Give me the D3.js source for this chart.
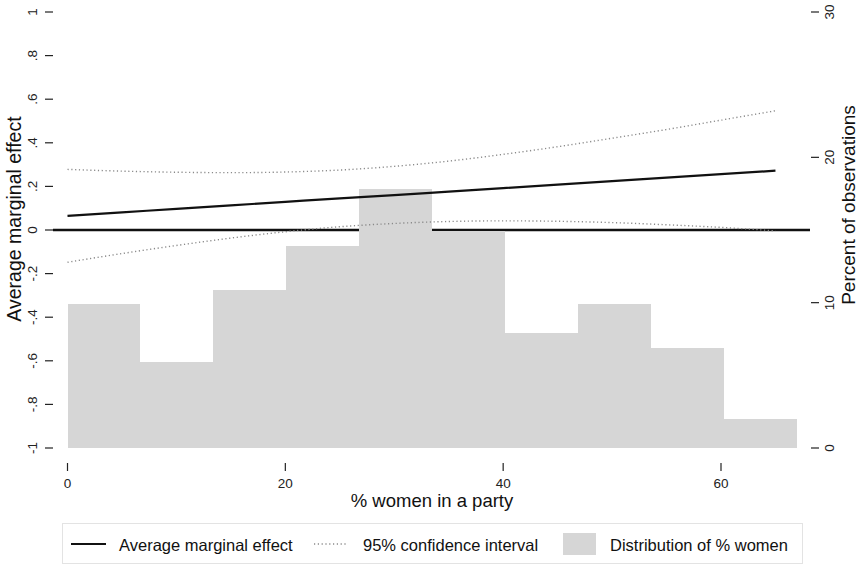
<!DOCTYPE html>
<html>
<head>
<meta charset="utf-8">
<script src="https://cdn.jsdelivr.net/npm/d3@7"></script>
<style>
  html, body { margin: 0; padding: 0; background: #fff; }
  svg { display: block; font-family: "Liberation Sans", Arial, Helvetica, sans-serif; }
</style>
</head>
<body>
<svg id="chart" width="857" height="565"></svg>
<script>
// ---- Data ----
// Histogram bins (% women in a party), lower edges, bin width 6.7
const binStarts = [0, 6.7, 13.4, 20.1, 26.8, 33.5, 40.2, 46.9, 53.6, 60.3];
const binWidth = 6.7;
const binPercent = [9.9, 5.9, 10.9, 13.9, 17.8, 14.9, 7.9, 9.9, 6.9, 2.0];

// Marginal effect line and CI
const xPoints = [0, 5, 10, 15, 20, 25, 30, 35, 40, 45, 50, 55, 60, 65];
const ame     = [0.065, 0.081, 0.097, 0.113, 0.129, 0.145, 0.160, 0.176, 0.192, 0.208, 0.224, 0.240, 0.256, 0.272];
const ciUpper = [0.278, 0.270, 0.265, 0.263, 0.266, 0.275, 0.292, 0.316, 0.347, 0.382, 0.421, 0.461, 0.504, 0.547];
const ciLower = [-0.148, -0.108, -0.071, -0.037, -0.008, 0.015, 0.030, 0.039, 0.042, 0.040, 0.034, 0.024, 0.012, -0.004];

const xTicks = [0, 20, 40, 60];
const yLeftTicks = [-1, -0.8, -0.6, -0.4, -0.2, 0, 0.2, 0.4, 0.6, 0.8, 1];
const yLeftLabels = ["-1", "-.8", "-.6", "-.4", "-.2", "0", ".2", ".4", ".6", ".8", "1"];
const yRightTicks = [0, 10, 20, 30];

const legendItems = ["Average marginal effect", "95% confidence interval", "Distribution of % women"];

// ---- Scales ----
const svg = d3.select("#chart");
const x = d3.scaleLinear().domain([0, 60]).range([67.5, 721]);
const yL = d3.scaleLinear().domain([-1, 1]).range([448, 12]);
const yR = d3.scaleLinear().domain([0, 30]).range([448, 12]);

const barColor = "#d6d6d6";

// zero reference line (beneath bars)
svg.append("line")
  .attr("x1", 53).attr("x2", 810)
  .attr("y1", yL(0)).attr("y2", yL(0))
  .attr("stroke", "#111").attr("stroke-width", 2.4);

// histogram bars
svg.append("g").selectAll("rect")
  .data(binStarts)
  .join("rect")
  .attr("x", d => x(d))
  .attr("width", d => x(d + binWidth) - x(d))
  .attr("y", (d, i) => yR(binPercent[i]))
  .attr("height", (d, i) => yR(0) - yR(binPercent[i]))
  .attr("fill", barColor)
  .attr("shape-rendering", "crispEdges");

// CI lines
const line = d3.line().x((d, i) => x(xPoints[i])).y(d => yL(d)).curve(d3.curveMonotoneX);
[ciUpper, ciLower].forEach(arr => {
  svg.append("path")
    .attr("d", line(arr))
    .attr("fill", "none")
    .attr("stroke", "#8a8a8a")
    .attr("stroke-width", 1.4)
    .attr("stroke-dasharray", "1.2,2.6");
});

// AME line
svg.append("path")
  .attr("d", line(ame))
  .attr("fill", "none")
  .attr("stroke", "#111")
  .attr("stroke-width", 2.2);

// ---- Left axis ----
const gL = svg.append("g");
gL.selectAll("line").data(yLeftTicks).join("line")
  .attr("x1", 45).attr("x2", 53)
  .attr("y1", d => yL(d)).attr("y2", d => yL(d))
  .attr("stroke", "#222").attr("stroke-width", 1.2);
gL.selectAll("text").data(yLeftTicks).join("text")
  .attr("transform", d => `translate(32,${yL(d)}) rotate(-90)`)
  .attr("text-anchor", "middle")
  .attr("dominant-baseline", "central")
  .attr("font-size", 13.5)
  .attr("fill", "#222")
  .text((d, i) => yLeftLabels[i]);
svg.append("text")
  .attr("transform", `translate(14,219) rotate(-90)`)
  .attr("text-anchor", "middle")
  .attr("dominant-baseline", "central")
  .attr("font-size", 19.5)
  .attr("fill", "#111")
  .text("Average marginal effect");

// ---- Right axis ----
const gR = svg.append("g");
gR.selectAll("line").data(yRightTicks).join("line")
  .attr("x1", 811).attr("x2", 819)
  .attr("y1", d => yR(d)).attr("y2", d => yR(d))
  .attr("stroke", "#222").attr("stroke-width", 1.2);
gR.selectAll("text").data(yRightTicks).join("text")
  .attr("transform", d => `translate(829,${yR(d)}) rotate(-90)`)
  .attr("text-anchor", "middle")
  .attr("dominant-baseline", "central")
  .attr("font-size", 13.5)
  .attr("fill", "#222")
  .text(d => d);
svg.append("text")
  .attr("transform", `translate(848,205) rotate(-90)`)
  .attr("text-anchor", "middle")
  .attr("dominant-baseline", "central")
  .attr("font-size", 19)
  .attr("fill", "#111")
  .text("Percent of observations");

// ---- Bottom axis ----
const gB = svg.append("g");
gB.selectAll("line").data(xTicks).join("line")
  .attr("x1", d => x(d)).attr("x2", d => x(d))
  .attr("y1", 463).attr("y2", 471)
  .attr("stroke", "#222").attr("stroke-width", 1.2);
gB.selectAll("text").data(xTicks).join("text")
  .attr("x", d => x(d)).attr("y", 483)
  .attr("text-anchor", "middle")
  .attr("dominant-baseline", "central")
  .attr("font-size", 13.5)
  .attr("fill", "#222")
  .text(d => d);
svg.append("text")
  .attr("x", 432).attr("y", 500)
  .attr("text-anchor", "middle")
  .attr("dominant-baseline", "central")
  .attr("font-size", 18.5)
  .attr("fill", "#111")
  .text("% women in a party");

// ---- Legend ----
const lg = svg.append("g");
lg.append("rect")
  .attr("x", 62.5).attr("y", 523.5).attr("width", 740).attr("height", 40)
  .attr("fill", "#fff").attr("stroke", "#e3e3e3").attr("stroke-width", 1);
const ly = 544;
lg.append("line").attr("x1", 71).attr("x2", 106).attr("y1", ly).attr("y2", ly)
  .attr("stroke", "#111").attr("stroke-width", 2.2);
lg.append("line").attr("x1", 314).attr("x2", 347).attr("y1", ly).attr("y2", ly)
  .attr("stroke", "#8a8a8a").attr("stroke-width", 1.4).attr("stroke-dasharray", "1.2,2.6");
lg.append("rect").attr("x", 563).attr("y", 533).attr("width", 33).attr("height", 22)
  .attr("fill", barColor);
const lx = [119, 363, 610];
lg.selectAll("text.lt").data(legendItems).join("text")
  .attr("class", "lt")
  .attr("x", (d, i) => lx[i]).attr("y", ly + 1)
  .attr("dominant-baseline", "central")
  .attr("font-size", 16.5)
  .attr("fill", "#111")
  .text(d => d);
</script>
</body>
</html>
